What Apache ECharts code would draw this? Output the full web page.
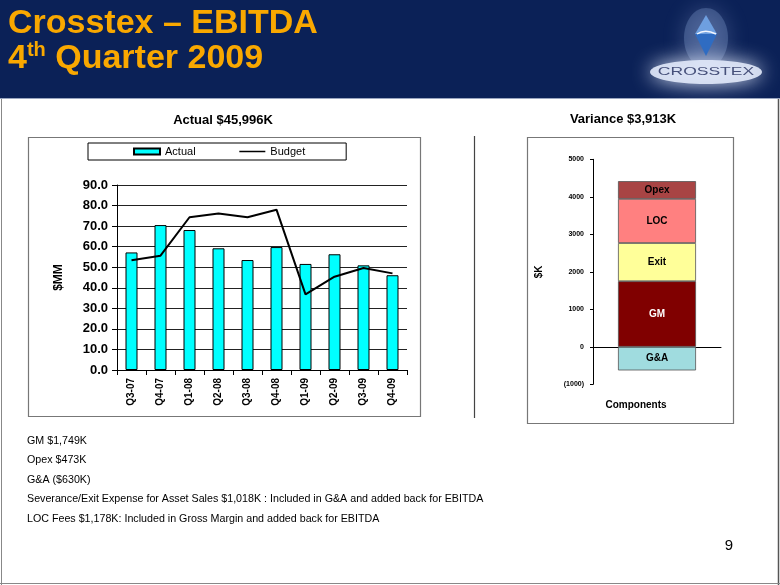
<!DOCTYPE html>
<html><head><meta charset="utf-8">
<script src="https://cdn.jsdelivr.net/npm/echarts@6/dist/echarts.min.js"></script>
<style>html,body{margin:0;padding:0;background:#fff}#c{width:780px;height:585px}</style>
</head><body><div id="c"></div>
<script>
// ---- data ----
const quarters = ['Q3-07','Q4-07','Q1-08','Q2-08','Q3-08','Q4-08','Q1-09','Q2-09','Q3-09','Q4-09'];
const actual = [57.2, 70.5, 68.1, 59.2, 53.5, 59.8, 51.6, 56.3, 50.9, 46.1];
const budget = [53.4, 55.6, 74.3, 76.1, 74.3, 78.0, 36.8, 45.4, 49.6, 47.0];
const seriesNames = ['Actual', 'Budget'];
const leftTitle = 'Actual $45,996K';
const rightTitle = 'Variance $3,913K';
const componentNames = ['GM', 'Exit', 'LOC', 'Opex', 'G&A'];
const componentValues = [1749, 1018, 1178, 473, -630];
const notes = [
  'GM $1,749K',
  'Opex $473K',
  'G&A ($630K)',
  'Severance/Exit Expense for Asset Sales $1,018K : Included in G&A and added back for EBITDA',
  'LOC Fees $1,178K: Included in Gross Margin and added back for EBITDA'
];

// ---- styles ----
const FONT = '"Liberation Sans", Arial, sans-serif';
const compColors = ['#800000', '#FFFF99', '#FF8080', '#A84444', '#A0DCDF'];
const compLabelColors = ['#FFFFFF', '#000000', '#000000', '#000000', '#000000'];
const navy = '#0B2157';
const gold = '#F9A800';

const chart = echarts.init(document.getElementById('c'), null, {renderer: 'canvas'});

const compSeries = componentNames.map((n, i) => ({
  name: n, type: 'bar', xAxisIndex: 1, yAxisIndex: 1, stack: 'var',
  data: [componentValues[i]], barWidth: 78,
  itemStyle: {color: compColors[i], borderColor: '#555', borderWidth: 0.8},
  label: {show: true, position: 'inside', formatter: n, color: compLabelColors[i],
          fontWeight: 'bold', fontSize: 10, fontFamily: FONT}
}));

const graphics = [
  {type: 'rect', shape: {x: 0, y: 0, width: 780, height: 98}, style: {fill: navy}, z: 1},
  {type: 'line', shape: {x1: 0, y1: 98.5, x2: 780, y2: 98.5}, style: {stroke: '#9AA6C0', lineWidth: 1}, z: 1},
  // logo glow
  {type: 'ellipse', shape: {cx: 706, cy: 38, rx: 22, ry: 30},
   style: {fill: 'rgba(140,165,215,0.30)', shadowBlur: 22, shadowColor: 'rgba(180,200,245,0.8)'}, z: 2},
  {type: 'ellipse', shape: {cx: 706, cy: 72, rx: 56, ry: 12},
   style: {fill: 'rgba(222,230,247,0.92)', shadowBlur: 20, shadowColor: 'rgba(230,238,255,1)'}, z: 2},
  // diamond
  {type: 'polygon', shape: {points: [[706,15],[717,34],[695,34]]}, style: {fill: '#6E9FE0'}, z: 3},
  {type: 'polygon', shape: {points: [[695,34],[717,34],[706,56]]}, style: {fill: '#2F6CC2'}, z: 3},
  {type: 'bezierCurve', shape: {x1: 697, y1: 34, cpx1: 703, cpy1: 30, cpx2: 710, cpy2: 31, x2: 716, y2: 34},
   style: {stroke: '#F2F6FF', lineWidth: 1.5, fill: null}, z: 4},
  {type: 'text', x: 706, y: 72, scaleX: 1.75, scaleY: 1, originX: 0, originY: 0,
   style: {text: 'CROSSTEX', font: '10px ' + FONT, fill: '#46507A', align: 'center', verticalAlign: 'middle'}, z: 4},
  // title
  {type: 'text', x: 8, y: 24, style: {text: 'Crosstex \u2013 EBITDA', font: 'bold 34px ' + FONT, fill: gold,
   align: 'left', verticalAlign: 'middle'}, z: 4},
  {type: 'text', x: 8, y: 59, style: {text: '{a|4}{s|th}{a| Quarter 2009}', align: 'left', verticalAlign: 'middle',
   rich: {a: {font: 'bold 34px ' + FONT, fill: gold, color: gold, lineHeight: 38},
          s: {font: 'bold 20px ' + FONT, fill: gold, color: gold, verticalAlign: 'top', lineHeight: 38}}}, z: 4},
  // slide borders
  {type: 'line', shape: {x1: 778.5, y1: 98, x2: 778.5, y2: 585}, style: {stroke: '#555', lineWidth: 1.5}},
  {type: 'line', shape: {x1: 1.5, y1: 98, x2: 1.5, y2: 585}, style: {stroke: '#888', lineWidth: 1}},
  {type: 'line', shape: {x1: 0, y1: 583.5, x2: 780, y2: 583.5}, style: {stroke: '#888', lineWidth: 1}},
  // chart titles
  {type: 'text', x: 223, y: 120, style: {text: leftTitle, font: 'bold 13px ' + FONT, fill: '#000', align: 'center', verticalAlign: 'middle'}},
  {type: 'text', x: 623, y: 119, style: {text: rightTitle, font: 'bold 13px ' + FONT, fill: '#000', align: 'center', verticalAlign: 'middle'}},
  // chart boxes
  {type: 'rect', shape: {x: 28.5, y: 137.5, width: 392, height: 279}, style: {fill: null, stroke: '#777', lineWidth: 1.2}},
  {type: 'rect', shape: {x: 527.5, y: 137.5, width: 206, height: 286}, style: {fill: null, stroke: '#777', lineWidth: 1.2}},
  {type: 'line', shape: {x1: 474.5, y1: 136, x2: 474.5, y2: 418}, style: {stroke: '#444', lineWidth: 1.2}},
  {type: 'text', x: 636, y: 405, style: {text: 'Components', font: 'bold 10px ' + FONT, fill: '#000', align: 'center', verticalAlign: 'middle'}},
  // page number
  {type: 'text', x: 729, y: 546, style: {text: '9', font: '15px ' + FONT, fill: '#000', align: 'center', verticalAlign: 'middle'}}
];
notes.forEach((t, i) => {
  graphics.push({type: 'text', x: 27, y: 441 + i * 19.4,
    style: {text: t, font: '10.7px ' + FONT, fill: '#000', align: 'left', verticalAlign: 'middle'}});
});

chart.setOption({
  animation: false,
  backgroundColor: '#fff',
  textStyle: {fontFamily: FONT},
  legend: {
    data: [
      {name: seriesNames[0], icon: 'rect'},
      {name: seriesNames[1],
       itemStyle: {color: 'rgba(0,0,0,0)', borderColor: 'rgba(0,0,0,0)', borderWidth: 0},
       lineStyle: {color: '#000', width: 1.5}}
    ],
    left: 88, top: 143, orient: 'horizontal',
    itemWidth: 26, itemHeight: 6, itemGap: 43, padding: [3, 41, 3, 45],
    borderColor: '#000', borderWidth: 1,
    textStyle: {fontSize: 11, color: '#000', fontFamily: FONT}
  },
  grid: [
    {left: 117, top: 185, width: 290, height: 185},
    {left: 593, top: 159.3, width: 128, height: 225}
  ],
  xAxis: [
    {gridIndex: 0, type: 'category', data: quarters,
     axisLine: {lineStyle: {color: '#000', width: 1}},
     axisTick: {show: true, length: 5, lineStyle: {color: '#000'}},
     axisLabel: {rotate: 90, fontWeight: 'bold', fontSize: 10, color: '#000', margin: 8, fontFamily: FONT}},
    {gridIndex: 1, type: 'category', data: ['Components'],
     axisLine: {onZero: true, lineStyle: {color: '#000', width: 1}},
     axisTick: {show: false}, axisLabel: {show: false}}
  ],
  yAxis: [
    {gridIndex: 0, type: 'value', min: 0, max: 90, interval: 10,
     name: '$MM', nameLocation: 'middle', nameGap: 52, nameRotate: 90,
     nameTextStyle: {fontWeight: 'bold', fontSize: 12, color: '#000', fontFamily: FONT},
     axisLine: {show: true, lineStyle: {color: '#000'}},
     axisTick: {show: true, length: 5, lineStyle: {color: '#000'}},
     axisLabel: {formatter: v => v.toFixed(1), fontWeight: 'bold', fontSize: 13, color: '#000', margin: 9, fontFamily: FONT},
     splitLine: {show: true, lineStyle: {color: '#222', width: 1}}},
    {gridIndex: 1, type: 'value', min: -1000, max: 5000, interval: 1000,
     name: '$K', nameLocation: 'middle', nameGap: 49, nameRotate: 90,
     nameTextStyle: {fontWeight: 'bold', fontSize: 10, color: '#000', fontFamily: FONT},
     axisLine: {show: true, lineStyle: {color: '#000'}},
     axisTick: {show: true, length: 3, lineStyle: {color: '#000'}},
     axisLabel: {formatter: v => v < 0 ? '(' + (-v) + ')' : String(v), fontWeight: 'bold', fontSize: 7, color: '#000', margin: 9, fontFamily: FONT},
     splitLine: {show: false}}
  ],
  series: [
    {name: 'Actual', type: 'bar', xAxisIndex: 0, yAxisIndex: 0, data: actual, barWidth: 12,
     itemStyle: {color: '#00FFFF', borderColor: '#000', borderWidth: 1}},
    {name: 'Budget', type: 'line', xAxisIndex: 0, yAxisIndex: 0, data: budget, symbol: 'none', z: 5,
     lineStyle: {color: '#000', width: 2}, itemStyle: {color: '#000'}},
    ...compSeries
  ],
  graphic: graphics
});
</script>
</body></html>
